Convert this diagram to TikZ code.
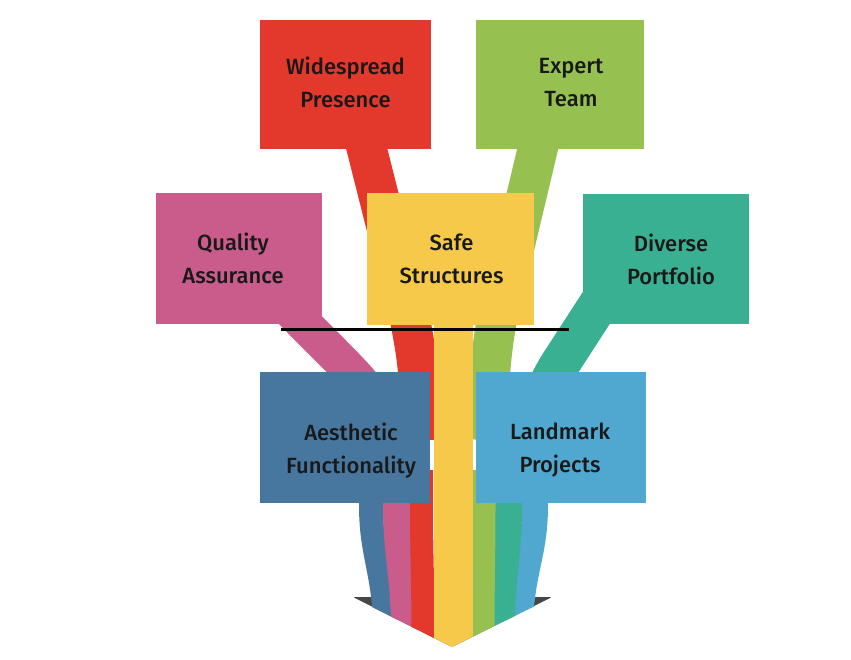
\documentclass[tikz,border=0pt]{standalone}
\usepackage{fontspec}
\setmainfont{Fira Sans}
\newfontfamily\lblfont{Fira Sans Medium}
\usetikzlibrary{backgrounds}
\definecolor{redbox}{HTML}{E3382C}
\definecolor{greenbox}{HTML}{96C151}
\definecolor{pinkbox}{HTML}{C95C8A}
\definecolor{yellowbox}{HTML}{F6C94B}
\definecolor{tealbox}{HTML}{3AB092}
\definecolor{bluebox}{HTML}{47779F}
\definecolor{skybox}{HTML}{50A7CF}
\definecolor{arrowgray}{HTML}{474747}
\begin{document}
\begin{tikzpicture}[x=1pt,y=-1pt,
  box/.style={rectangle, inner sep=0pt},
  lbl/.style={align=center, font=\lblfont\fontsize{22}{33}\selectfont, text=black!90},
  band/.style={line width=#1, line cap=butt}]
\path[use as bounding box] (0,0) rectangle (851,660);

\node[box, fill=redbox, minimum width=171pt, minimum height=129pt] (wide) at (345.5,84.5) {};
\node[box, fill=greenbox, minimum width=168pt, minimum height=129pt] (expert) at (560,84.5) {};
\node[box, fill=pinkbox, minimum width=166pt, minimum height=131pt] (quality) at (239,258.5) {};
\node[box, fill=yellowbox, minimum width=167pt, minimum height=132pt] (safe) at (450.5,259) {};
\node[box, fill=tealbox, minimum width=166pt, minimum height=130pt] (diverse) at (666,259) {};
\node[box, fill=bluebox, minimum width=170pt, minimum height=131pt] (aesth) at (345,437.5) {};
\node[box, fill=skybox, minimum width=170pt, minimum height=131pt] (land) at (561,437.5) {};

\node[lbl] (wideT) at ([yshift=2pt]wide.center) {Widespread\\Presence};
\node[lbl] (expertT) at ([shift={(11pt,2pt)}]expert.center) {Expert\\Team};
\node[lbl] (qualityT) at ([xshift=-6pt]quality.center) {Quality\\Assurance};
\node[lbl] (safeT) at ([xshift=1pt]safe.center) {Safe\\Structures};
\node[lbl] (diverseT) at ([xshift=5pt]diverse.center) {Diverse\\Portfolio};
\node[lbl] (aesthT) at ([shift={(6pt,-13pt)}]aesth.center) {Aesthetic\\Functionality};
\node[lbl] (landT) at ([shift={(-1pt,-13pt)}]land.center) {Landmark\\Projects};

\coordinate (tip) at (452,647);

\begin{scope}[on background layer]
\fill[white] (0,0) rectangle (851,660);
\fill[arrowgray, rounded corners=2pt] (353,597) -- (552,597) -- (tip) -- cycle;
\begin{scope}
\clip (0,0) -- (851,0) -- (851,597) -- (553,597) -- (tip) -- (352,597) -- (0,597) -- cycle;
% upper parts
\draw[band=36pt, pinkbox] (quality.center) -- (342,362) .. controls (362,383) and (380,400) .. (390,440);
\draw[band=40pt, tealbox] ([xshift=-38pt]diverse.center) -- (560,364) .. controls (548,383) and (538,405) .. (535,440);
\draw[band=40pt, redbox] ([xshift=5pt]wide.center) -- (410,320) .. controls (416,350) and (421,380) .. (421,440);
\draw[band=40pt, greenbox] ([xshift=-7pt]expert.center) -- (497,320) .. controls (493,340) and (489,370) .. (486,440);
% lower parts
\draw[band=24pt, bluebox] ([xshift=26pt]aesth.center) -- (371,505) .. controls (371,560) and (386,570) .. (386,650);
\draw[band=26pt, skybox] ([xshift=-26pt]land.center) -- (535,505) .. controls (535,560) and (519,570) .. (519,650);
\draw[band=27pt, pinkbox] (396.5,470) -- (396.5,505) .. controls (396.5,560) and (405,570) .. (405,650);
\draw[band=27pt, tealbox] (508.5,470) -- (508.5,505) .. controls (508.5,560) and (501,570) .. (501,650);
\draw[band=23pt, redbox] (421.5,470) -- (421.5,505) .. controls (421.5,560) and (423,570) .. (423,650);
\draw[band=23pt, greenbox] (484,470) -- (484,505) .. controls (484,560) and (483,570) .. (483,650);
\draw[band=39pt, yellowbox] (453,259) -- (453,660);
\end{scope}
\draw[line width=3pt] (281,329) -- (569,329);
\end{scope}
\end{tikzpicture}
\end{document}
